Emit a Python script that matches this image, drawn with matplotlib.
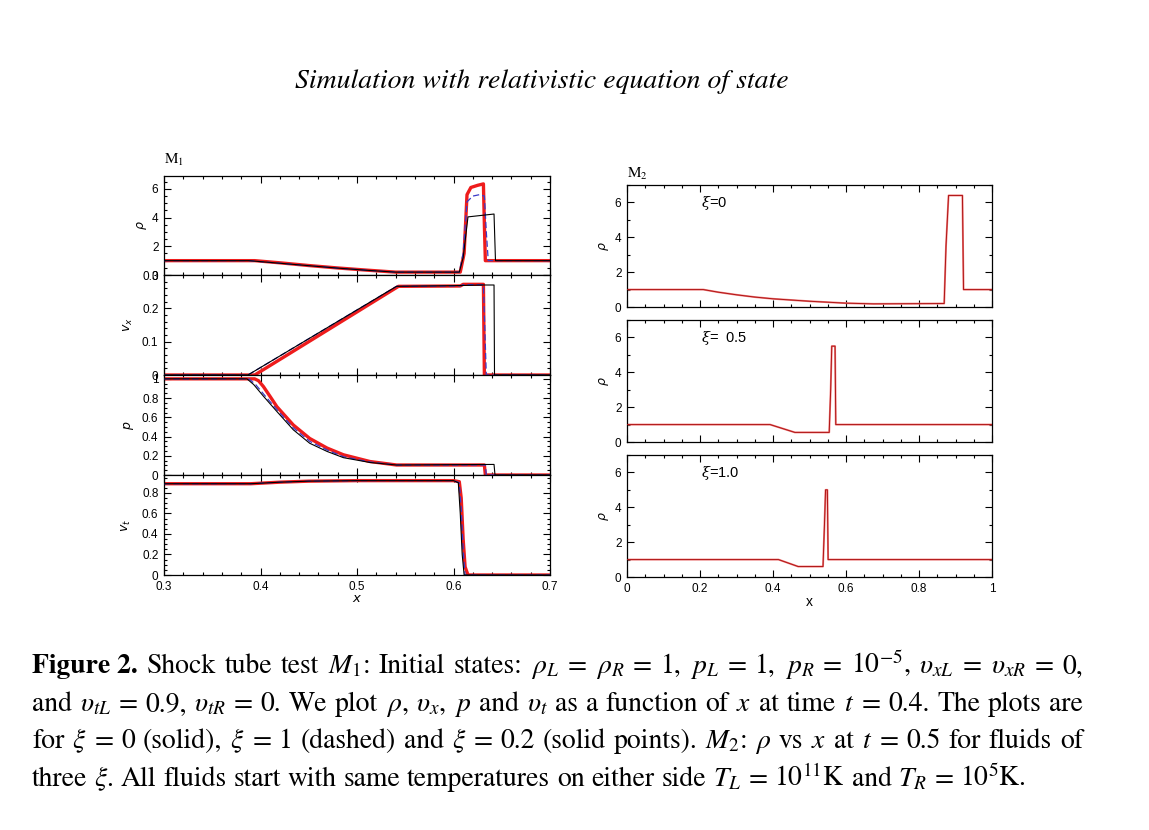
import matplotlib
matplotlib.use("Agg")
import matplotlib.pyplot as plt
from matplotlib.ticker import MultipleLocator

plt.rcParams['mathtext.fontset'] = 'stix'
plt.rcParams['font.family'] = ['Liberation Sans', 'DejaVu Sans']

W, H = 1149, 830

# ---------------- data: M1 (t = 0.4) ----------------
# density rho
rho0_x = [0.30, 0.388, 0.42, 0.45, 0.48, 0.51, 0.54, 0.606, 0.610, 0.615, 0.642, 0.6435, 0.70]
rho0_y = [1.0, 1.0, 0.82, 0.65, 0.48, 0.33, 0.20, 0.20, 1.2, 4.05, 4.25, 1.0, 1.0]
rho1_x = [0.30, 0.388, 0.42, 0.45, 0.48, 0.51, 0.54, 0.606, 0.610, 0.614, 0.620, 0.627, 0.632, 0.634, 0.636, 0.70]
rho1_y = [1.0, 1.0, 0.82, 0.65, 0.48, 0.33, 0.20, 0.20, 1.5, 5.1, 5.5, 5.6, 5.5, 3.0, 1.0, 1.0]
rho2_x = [0.30, 0.394, 0.42, 0.45, 0.48, 0.51, 0.54, 0.607, 0.611, 0.614, 0.618, 0.625, 0.631, 0.632, 0.633, 0.70]
rho2_y = [1.0, 1.0, 0.85, 0.66, 0.49, 0.34, 0.20, 0.20, 1.5, 5.6, 6.1, 6.25, 6.35, 3.5, 1.0, 1.0]

# x-velocity v_x
vx0_x = [0.30, 0.387, 0.541, 0.60, 0.631, 0.642, 0.6425, 0.70]
vx0_y = [0.0, 0.0, 0.266, 0.268, 0.270, 0.270, 0.0, 0.0]
vx1_x = [0.30, 0.387, 0.541, 0.607, 0.610, 0.631, 0.634, 0.70]
vx1_y = [0.0, 0.0, 0.266, 0.267, 0.271, 0.271, 0.0, 0.0]
vx2_x = [0.30, 0.394, 0.543, 0.607, 0.610, 0.631, 0.632, 0.70]
vx2_y = [0.0, 0.0, 0.266, 0.267, 0.272, 0.272, 0.0, 0.0]

# pressure p
p0_x = [0.30, 0.386, 0.393, 0.403, 0.417, 0.434, 0.451, 0.469, 0.486, 0.5135, 0.541, 0.642, 0.643, 0.70]
p0_y = [1.0, 1.0, 0.94, 0.82, 0.66, 0.47, 0.33, 0.245, 0.18, 0.13, 0.104, 0.11, 0.0, 0.0]
p1_x = [0.30, 0.388, 0.395, 0.405, 0.417, 0.434, 0.451, 0.469, 0.486, 0.5135, 0.541, 0.633, 0.634, 0.70]
p1_y = [1.0, 1.0, 0.94, 0.82, 0.68, 0.49, 0.35, 0.26, 0.19, 0.135, 0.104, 0.104, 0.0, 0.0]
p2_x = [0.30, 0.394, 0.398, 0.403, 0.410, 0.417, 0.434, 0.451, 0.469, 0.486, 0.5135, 0.541, 0.632, 0.633, 0.70]
p2_y = [1.0, 1.0, 0.98, 0.92, 0.816, 0.71, 0.52, 0.38, 0.28, 0.21, 0.14, 0.104, 0.104, 0.0, 0.0]

# tangential velocity v_t
vt0_x = [0.30, 0.39, 0.42, 0.45, 0.50, 0.60, 0.605, 0.607, 0.609, 0.611, 0.70]
vt0_y = [0.89, 0.89, 0.905, 0.915, 0.92, 0.92, 0.90, 0.60, 0.20, 0.0, 0.0]
vt1_x = [0.30, 0.39, 0.42, 0.45, 0.50, 0.60, 0.606, 0.608, 0.610, 0.612, 0.70]
vt1_y = [0.89, 0.89, 0.905, 0.915, 0.92, 0.92, 0.90, 0.65, 0.25, 0.0, 0.0]
vt2_x = [0.30, 0.39, 0.42, 0.45, 0.50, 0.60, 0.606, 0.608, 0.610, 0.612, 0.615, 0.70]
vt2_y = [0.89, 0.89, 0.905, 0.915, 0.92, 0.92, 0.91, 0.75, 0.35, 0.08, 0.0, 0.0]

# ---------------- data: M2 (t = 0.5) ----------------
m2a_x = [0.0, 0.209, 0.25, 0.30, 0.35, 0.40, 0.50, 0.60, 0.675, 0.869, 0.874, 0.881, 0.919, 0.922, 1.0]
m2a_y = [1.0, 1.0, 0.85, 0.70, 0.57, 0.47, 0.33, 0.22, 0.18, 0.20, 3.5, 6.4, 6.4, 1.0, 1.0]
m2b_x = [0.0, 0.392, 0.46, 0.554, 0.558, 0.561, 0.570, 0.572, 1.0]
m2b_y = [1.0, 1.0, 0.55, 0.55, 3.0, 5.5, 5.5, 1.0, 1.0]
m2c_x = [0.0, 0.415, 0.469, 0.537, 0.541, 0.544, 0.549, 0.551, 1.0]
m2c_y = [1.0, 1.0, 0.60, 0.60, 3.0, 5.0, 5.0, 1.0, 1.0]
m2_labels = [r'$\xi$=0', r'$\xi$=  0.5', r'$\xi$=1.0']

left_ylabels = [r'$\rho$', r'$v_x$', r'$p$', r'$v_t$']
left_ylims = [(0, 6.9), (0, 0.3), (0, 1.04), (0, 0.975)]
left_yticks = [[0, 2, 4, 6], [0, 0.1, 0.2, 0.3], [0, 0.2, 0.4, 0.6, 0.8, 1], [0, 0.2, 0.4, 0.6, 0.8]]
left_yticklabels = [['0', '2', '4', '6'], ['0', '0.1', '0.2', '0.3'],
                    ['0', '0.2', '0.4', '0.6', '0.8', '1'], ['0', '0.2', '0.4', '0.6', '0.8']]
left_yminor = [0.5, 0.02, 0.05, 0.05]
left_xticks = [0.3, 0.4, 0.5, 0.6, 0.7]
left_xticklabels = ['0.3', '0.4', '0.5', '0.6', '0.7']
right_xticks = [0, 0.2, 0.4, 0.6, 0.8, 1]
right_xticklabels = ['0', '0.2', '0.4', '0.6', '0.8', '1']

fig = plt.figure(figsize=(W / 100, H / 100), dpi=100)


def px_axes(x0, y0, x1, y1):
    return fig.add_axes([x0 / W, 1 - y1 / H, (x1 - x0) / W, (y1 - y0) / H])


def style(ax):
    ax.tick_params(which='both', direction='in', top=True, right=True, width=0.8,
                   labelsize=8.5, pad=4)
    ax.tick_params(which='major', length=5)
    ax.tick_params(which='minor', length=2.5)
    for s in ax.spines.values():
        s.set_linewidth(0.9)


left_data = [
    ((rho0_x, rho0_y), (rho1_x, rho1_y), (rho2_x, rho2_y)),
    ((vx0_x, vx0_y), (vx1_x, vx1_y), (vx2_x, vx2_y)),
    ((p0_x, p0_y), (p1_x, p1_y), (p2_x, p2_y)),
    ((vt0_x, vt0_y), (vt1_x, vt1_y), (vt2_x, vt2_y)),
]
left_rows = [(176, 275), (275, 375), (375, 475), (475, 575)]
label_x = [-0.038, -0.076, -0.072, -0.08]

for i, (yt, yb) in enumerate(left_rows):
    ax = px_axes(164, yt, 550, yb)
    (x0, y0), (x1, y1), (x2, y2) = left_data[i]
    ax.plot(x2, y2, color='#ee1c1c', lw=2.4, solid_capstyle='round',
            solid_joinstyle='round', zorder=2)
    ax.plot(x1, y1, color='#3a3ac8', lw=0.9, dashes=(5, 2.5), zorder=3)
    ax.plot(x0, y0, color='black', lw=0.8, zorder=4)
    ax.set_xlim(0.3, 0.7)
    ax.set_ylim(*left_ylims[i])
    ax.set_xticks(left_xticks)
    ax.xaxis.set_minor_locator(MultipleLocator(0.02))
    ax.set_yticks(left_yticks[i])
    ax.set_yticklabels(left_yticklabels[i])
    ax.yaxis.set_minor_locator(MultipleLocator(left_yminor[i]))
    style(ax)
    if i == 3:
        ax.set_xticklabels(left_xticklabels)
        ax.set_xlabel(r'$x$', fontsize=9.5, labelpad=0, math_fontfamily='dejavusans')
    else:
        ax.set_xticklabels([])
    ax.set_ylabel(left_ylabels[i], fontsize=9, math_fontfamily='dejavusans')
    ax.yaxis.set_label_coords(label_x[i], 0.5)
    if i == 0:
        ax.text(0.0, 1.12, r'M$_1$', transform=ax.transAxes, fontsize=11,
                family='STIXGeneral', ha='left', va='baseline')

right_data = [(m2a_x, m2a_y), (m2b_x, m2b_y), (m2c_x, m2c_y)]
right_rows = [(185, 307), (320, 442), (455, 577)]
for i, (yt, yb) in enumerate(right_rows):
    ax = px_axes(627, yt, 992, yb)
    xs, ys = right_data[i]
    ax.plot(xs, ys, color='#f08080', lw=1.4, zorder=2)
    ax.plot(xs, ys, color='#b01515', lw=0.7, zorder=3)
    ax.set_xlim(0, 1)
    ax.set_ylim(0, 7)
    ax.set_xticks(right_xticks)
    ax.xaxis.set_minor_locator(MultipleLocator(0.05))
    ax.set_yticks([0, 2, 4, 6])
    ax.set_yticklabels(['0', '2', '4', '6'])
    ax.yaxis.set_minor_locator(MultipleLocator(1))
    style(ax)
    if i == 2:
        ax.set_xticklabels(right_xticklabels)
        ax.set_xlabel('x', fontsize=10, labelpad=0)
    else:
        ax.set_xticklabels([])
    ax.set_ylabel(r'$\rho$', fontsize=9, math_fontfamily='dejavusans')
    ax.yaxis.set_label_coords(-0.045, 0.5)
    ax.text(0.203, 0.855, m2_labels[i], transform=ax.transAxes, fontsize=10.5,
            ha='left', va='center', math_fontfamily='dejavuserif')
    if i == 0:
        ax.text(0.0, 1.06, r'M$_2$', transform=ax.transAxes, fontsize=11,
                family='STIXGeneral', ha='left', va='baseline')

# ---------------- title ----------------
fig.text(541.5 / W, 1 - 88 / H, 'Simulation with relativistic equation of state',
         fontsize=20, family='STIXGeneral', style='italic', ha='center', va='baseline')

# ---------------- caption (justified) ----------------
cap_lines = [
    [('Figure 2.', 'bold'), 'Shock', 'tube', 'test', r'$M_1$:', 'Initial', 'states:',
     r'$\rho_L$', '=', r'$\rho_R$', '=', '1,', r'$p_L$', '=', '1,', r'$p_R$', '=', r'$10^{-5}$,',
     r'$\upsilon_{xL}$', '=', r'$\upsilon_{xR}$', '=', '0,'],
    ['and', r'$\upsilon_{tL}$', '=', '0.9,', r'$\upsilon_{tR}$', '=', '0.', 'We', 'plot',
     r'$\rho$,', r'$\upsilon_x$,', r'$p$', 'and', r'$\upsilon_t$', 'as', 'a', 'function', 'of',
     r'$x$', 'at', 'time', r'$t$', '=', '0.4.', 'The', 'plots', 'are'],
    ['for', r'$\xi$', '=', '0', '(solid),', r'$\xi$', '=', '1', '(dashed)', 'and', r'$\xi$', '=',
     '0.2', '(solid', 'points).', r'$M_2$:', r'$\rho$', 'vs', r'$x$', 'at', r'$t$', '=', '0.5',
     'for', 'fluids', 'of'],
    ['three', r'$\xi$.', 'All', 'fluids', 'start', 'with', 'same', 'temperatures', 'on',
     'either', 'side', r'$T_L$', '=', r'$10^{11}$K', 'and', r'$T_R$', '=', r'$10^5$K.'],
]
cap_baselines = [673, 711, 748, 786]
cap_fs = 19.9
x_left, x_right = 32, 1083

renderer = fig.canvas.get_renderer()
for li, toks in enumerate(cap_lines):
    texts = []
    for tok in toks:
        if isinstance(tok, tuple):
            s, wgt = tok
        else:
            s, wgt = tok, 'normal'
        t = fig.text(0, 1 - cap_baselines[li] / H, s, fontsize=cap_fs, family='STIXGeneral',
                     weight=wgt, ha='left', va='baseline')
        texts.append(t)
    widths = [t.get_window_extent(renderer).width for t in texts]
    space = 0.25 * cap_fs * 100 / 72
    if li < len(cap_lines) - 1:
        gap = (x_right - x_left - sum(widths)) / (len(texts) - 1)
    else:
        gap = space
    xpos = x_left
    for t, w in zip(texts, widths):
        t.set_x(xpos / W)
        xpos += w + gap

fig.savefig('out.png', dpi=100)
